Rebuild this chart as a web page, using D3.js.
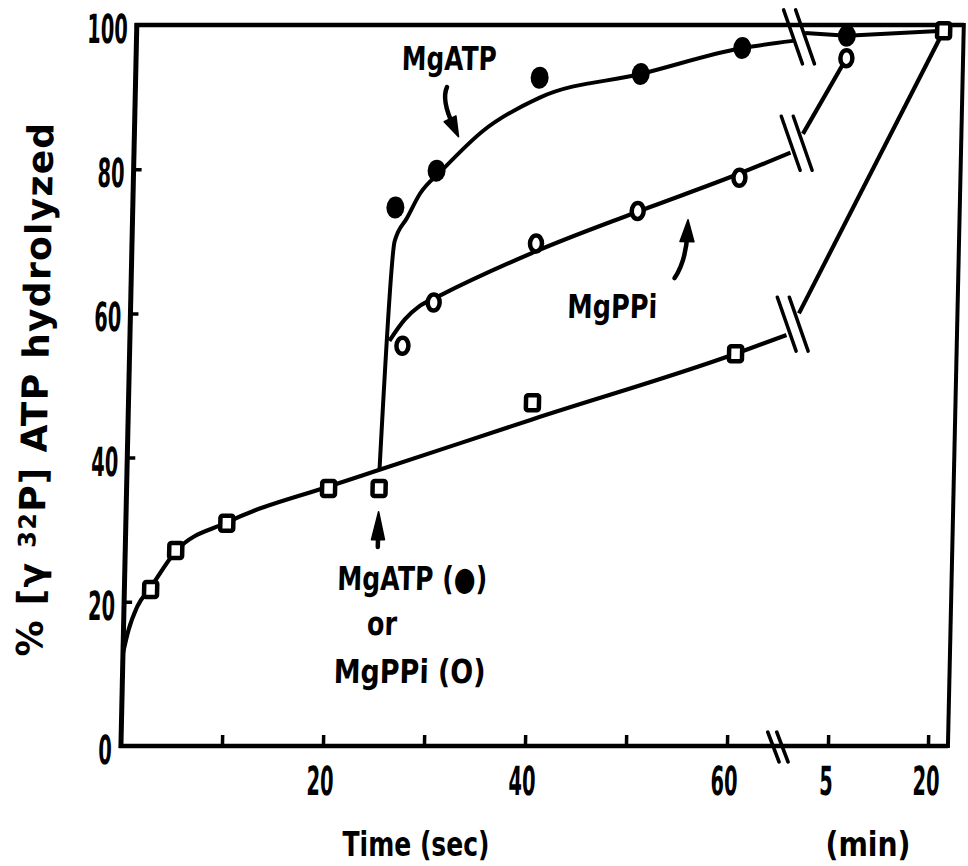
<!DOCTYPE html>
<html><head><meta charset="utf-8">
<script src="https://cdn.jsdelivr.net/npm/d3@7"></script>
<style>body{margin:0;background:#fff}</style>
</head><body>
<svg id="chart" width="968" height="866"></svg>
<script>
// ---------------- data ----------------
const secTicks = [10, 20, 30, 40, 50, 60];
const secTickLabels = [20, 40, 60];
const minTicks = [5, 20];
const minTickLabels = [5, 20];
const yTickMarks = [20, 40, 60, 80];
const yTickLabels = [0, 20, 40, 60, 80, 100];

// control (open squares), time in sec
const ctrlTimes  = [2.6, 5, 10, 20, 25, 40, 60];
const ctrlValues = [21.7, 27.1, 30.9, 35.7, 35.7, 47.6, 54.4];
const ctrlMinTimes  = [20];
const ctrlMinValues = [99.2];

// MgATP added (filled circles)
const mgatpTimes  = [26, 30, 40, 50, 60];
const mgatpValues = [74.7, 79.8, 92.7, 93.2, 96.8];
const mgatpMinTimes  = [5.5];
const mgatpMinValues = [98.5];

// MgPPi added (open circles)
const mgppiTimes  = [27, 30, 40, 50, 60];
const mgppiValues = [55.5, 61.5, 69.7, 74.2, 78.8];
const mgppiMinTimes  = [5.5];
const mgppiMinValues = [95.4];

// hand-drawn fitted curves (seconds part, up to the axis break)
const breakSec = 65;
const ctrlFitTimes  = [0, 0.5, 1.3, 2.6, 5, 10, 20, 25, 40, 60, 65];
const ctrlFitValues = [12.9, 16.1, 19.3, 22, 27, 31, 36, 38.3, 45.3, 54.4, 57];
const mgatpFitTimes  = [25, 26, 27.2, 28.4, 30.5, 34.5, 40, 50, 60, 65];
const mgatpFitValues = [38.3, 70, 73.3, 76.6, 79.8, 85.3, 89.9, 93.2, 96.8, 97.8];
const mgppiFitTimes  = [25.7, 27.2, 28.6, 30.5, 40, 50, 60, 65];
const mgppiFitValues = [56.2, 59.2, 61, 62.4, 68.6, 74.1, 79.4, 82.3];

// fitted curves after the break (value just right of break, then minutes)
const ctrlBreakRight = 60;
const ctrlAfterTimes = [20];
const ctrlAfterValues = [99.2];
const mgatpBreakRight = 98.9;
const mgatpAfterTimes = [5.5, 20];
const mgatpAfterValues = [98.5, 99.2];
const mgppiBreakRight = 84.9;
const mgppiAfterTimes = [5.5];
const mgppiAfterValues = [95.4];

const minAxisEnd = 23;

// ---------------- layout ----------------
const svg = d3.select("#chart");
const xSec = d3.scaleLinear().domain([0, 60]).range([121, 727]);
const xMin = d3.scaleLinear().domain([5, 20]).range([828, 928]);
const y = d3.scaleLinear().domain([0, 100]).range([746, 25]);
const breakGap = 12;
const ink = "#000";
const FONT = "'DejaVu Sans', sans-serif";

// scan is slightly sheared: vertical lines lean right going up
const k = 0.022, baseY = 743;
const g = svg.append("g")
  .attr("transform", `translate(${k * baseY},0) skewX(${-Math.atan(k) * 180 / Math.PI})`);

// frame
const x0 = xSec(0), x1 = xMin(minAxisEnd);
g.append("line").attr("x1", x0).attr("x2", x0).attr("y1", y(0) + 2).attr("y2", y(100) - 2)
  .attr("stroke", ink).attr("stroke-width", 5);
g.append("line").attr("x1", x0 - 2).attr("x2", x1).attr("y1", y(0)).attr("y2", y(0))
  .attr("stroke", ink).attr("stroke-width", 4.5);
g.append("line").attr("x1", x0 - 2).attr("x2", x1).attr("y1", y(100)).attr("y2", y(100))
  .attr("stroke", ink).attr("stroke-width", 4.5);
g.append("line").attr("x1", x1).attr("x2", x1).attr("y1", y(0) + 2).attr("y2", y(100) - 2)
  .attr("stroke", ink).attr("stroke-width", 4);

// ticks
function styleAxis(sel) {
  sel.select(".domain").remove();
  sel.selectAll(".tick line").attr("stroke", ink).attr("stroke-width", 3.5);
  sel.selectAll(".tick text").remove();
}
g.append("g").attr("transform", `translate(${x0},0)`)
  .call(d3.axisRight(y).tickValues(yTickMarks).tickSize(8).tickFormat(""))
  .call(styleAxis);
g.append("g").attr("transform", `translate(0,${y(0)})`)
  .call(d3.axisTop(xSec).tickValues(secTicks).tickSize(11).tickFormat(""))
  .call(styleAxis);
g.append("g").attr("transform", `translate(0,${y(0)})`)
  .call(d3.axisTop(xMin).tickValues(minTicks).tickSize(11).tickFormat(""))
  .call(styleAxis);

// tick labels
g.selectAll(".ylab").data(yTickLabels).join("text")
  .attr("x", x0 - 9).attr("y", d => y(d) + 18)
  .attr("text-anchor", "end").attr("font-family", FONT).attr("font-weight", "bold")
  .attr("font-size", 40).attr("textLength", d => 13.5 * String(d).length)
  .attr("lengthAdjust", "spacingAndGlyphs").attr("fill", ink).text(d => d);
const xLabs = secTickLabels.map(d => ({x: xSec(d) - 2, t: d}))
  .concat(minTickLabels.map(d => ({x: xMin(d) - 1, t: d})));
g.selectAll(".xlab").data(xLabs).join("text")
  .attr("x", d => d.x).attr("y", 795)
  .attr("text-anchor", "middle").attr("font-family", FONT).attr("font-weight", "bold")
  .attr("font-size", 40).attr("textLength", d => 13.5 * String(d.t).length)
  .attr("lengthAdjust", "spacingAndGlyphs").attr("fill", ink).text(d => d.t);

// axis break on x axis
const xb = xSec(breakSec);
[-4, 5].forEach(o => {
  g.append("line").attr("x1", xb + o - 6).attr("x2", xb + o + 6)
    .attr("y1", y(0) - 14).attr("y2", y(0) + 16)
    .attr("stroke", ink).attr("stroke-width", 3.5).attr("stroke-linecap", "round");
});

// curves
const zip = (a, b) => a.map((v, i) => [v, b[i]]);
const fitLine = d3.line().x(d => xSec(d[0])).y(d => y(d[1])).curve(d3.curveMonotoneX);
const linLine = d3.line();
function drawSeries(fitT, fitV, bR, aT, aV, w) {
  g.append("path").attr("d", fitLine(zip(fitT, fitV)))
    .attr("fill", "none").attr("stroke", ink).attr("stroke-width", w).attr("stroke-linejoin", "round");
  const pts = [[xb + breakGap, y(bR)]].concat(aT.map((t, i) => [xMin(t), y(aV[i])]));
  g.append("path").attr("d", linLine(pts))
    .attr("fill", "none").attr("stroke", ink).attr("stroke-width", w).attr("stroke-linejoin", "round");
  const cy = (y(fitV[fitV.length - 1]) + y(bR)) / 2;
  [0, breakGap].forEach(o => {
    g.append("line").attr("x1", xb + o - 10).attr("x2", xb + o + 10)
      .attr("y1", cy - 27).attr("y2", cy + 27)
      .attr("stroke", ink).attr("stroke-width", 3.5).attr("stroke-linecap", "round");
  });
}
drawSeries(ctrlFitTimes, ctrlFitValues, ctrlBreakRight, ctrlAfterTimes, ctrlAfterValues, 4.2);
drawSeries(mgppiFitTimes, mgppiFitValues, mgppiBreakRight, mgppiAfterTimes, mgppiAfterValues, 4.2);
drawSeries(mgatpFitTimes, mgatpFitValues, mgatpBreakRight, mgatpAfterTimes, mgatpAfterValues, 4);

// markers
const sqPts = zip(ctrlTimes, ctrlValues).map(d => [xSec(d[0]), y(d[1])])
  .concat(zip(ctrlMinTimes, ctrlMinValues).map(d => [xMin(d[0]), y(d[1])]));
g.selectAll(".sq").data(sqPts).join("rect")
  .attr("x", d => d[0] - 6.5).attr("y", d => d[1] - 7.5).attr("width", 13).attr("height", 15)
  .attr("rx", 2).attr("fill", "#fff").attr("stroke", ink).attr("stroke-width", 4.5);
const ocPts = zip(mgppiTimes, mgppiValues).map(d => [xSec(d[0]), y(d[1])])
  .concat(zip(mgppiMinTimes, mgppiMinValues).map(d => [xMin(d[0]), y(d[1])]));
g.selectAll(".oc").data(ocPts).join("ellipse")
  .attr("cx", d => d[0]).attr("cy", d => d[1]).attr("rx", 6).attr("ry", 8)
  .attr("fill", "#fff").attr("stroke", ink).attr("stroke-width", 4.5);
const fcPts = zip(mgatpTimes, mgatpValues).map(d => [xSec(d[0]), y(d[1])])
  .concat(zip(mgatpMinTimes, mgatpMinValues).map(d => [xMin(d[0]), y(d[1])]));
g.selectAll(".fc").data(fcPts).join("ellipse")
  .attr("cx", d => d[0]).attr("cy", d => d[1]).attr("rx", 9).attr("ry", 11)
  .attr("fill", ink);

// annotations (anchors in data coordinates)
function label(txt, t, v, anchor, len, fs) {
  g.append("text").attr("x", xSec(t)).attr("y", y(v)).attr("text-anchor", anchor)
    .attr("font-family", FONT).attr("font-weight", "bold").attr("font-size", fs || 33)
    .attr("textLength", len).attr("lengthAdjust", "spacingAndGlyphs")
    .attr("fill", ink).text(txt);
}
label("MgATP", 31.0, 93.8, "middle", 95);
label("MgPPi", 47.7, 59.4, "middle", 90);
label("MgATP (●)", 21.05, 21.6, "start", 150);
label("or", 24.1, 15.4, "start", 30);
label("MgPPi (O)", 20.9, 8.7, "start", 152);

function arrow(tail, ctrl, tip, headLen, headW) {
  const P0 = [xSec(tail[0]), y(tail[1])], C = [xSec(ctrl[0]), y(ctrl[1])], P1 = [xSec(tip[0]), y(tip[1])];
  let dx = P1[0] - C[0], dy = P1[1] - C[1];
  const L = Math.hypot(dx, dy); dx /= L; dy /= L;
  const end = [P1[0] - dx * headLen * 0.6, P1[1] - dy * headLen * 0.6];
  g.append("path").attr("d", `M${P0[0]},${P0[1]} Q${C[0]},${C[1]} ${end[0]},${end[1]}`)
    .attr("fill", "none").attr("stroke", ink).attr("stroke-width", 4.5).attr("stroke-linecap", "round");
  const bx = P1[0] - dx * headLen, by = P1[1] - dy * headLen;
  const px = -dy * headW / 2, py = dx * headW / 2;
  g.append("path").attr("d", `M${P1[0]},${P1[1]} L${bx + px},${by + py} L${bx - px},${by - py} Z`)
    .attr("fill", ink).attr("stroke", ink).attr("stroke-width", 1.5).attr("stroke-linejoin", "round");
}
arrow([30.85, 91.4], [30.29, 89.6], [32.1, 84.5], 20, 13);
arrow([53.8, 64.9], [54.9, 67.3], [55.0, 73.0], 22, 14);
arrow([25, 27.6], [25, 30], [25, 32.5], 28, 13);

// axis titles
g.append("text").attr("transform", "translate(40,389) rotate(-90)")
  .attr("text-anchor", "middle").attr("font-family", FONT).attr("font-weight", "bold")
  .attr("font-size", 36).attr("letter-spacing", 1.3).attr("fill", ink)
  .call(t => {
    t.append("tspan").text("% [γ ");
    t.append("tspan").attr("font-size", 24).attr("dy", -9).text("32");
    t.append("tspan").attr("dy", 9).text("P] ATP hydrolyzed");
  });
svg.append("text").attr("x", 416).attr("y", 856).attr("text-anchor", "middle")
  .attr("font-family", FONT).attr("font-weight", "bold").attr("font-size", 33)
  .attr("textLength", 147).attr("lengthAdjust", "spacingAndGlyphs").attr("fill", ink)
  .text("Time (sec)");
svg.append("text").attr("x", 868).attr("y", 856).attr("text-anchor", "middle")
  .attr("font-family", FONT).attr("font-weight", "bold").attr("font-size", 33)
  .attr("textLength", 85).attr("lengthAdjust", "spacingAndGlyphs").attr("fill", ink)
  .text("(min)");
</script>
</body></html>
